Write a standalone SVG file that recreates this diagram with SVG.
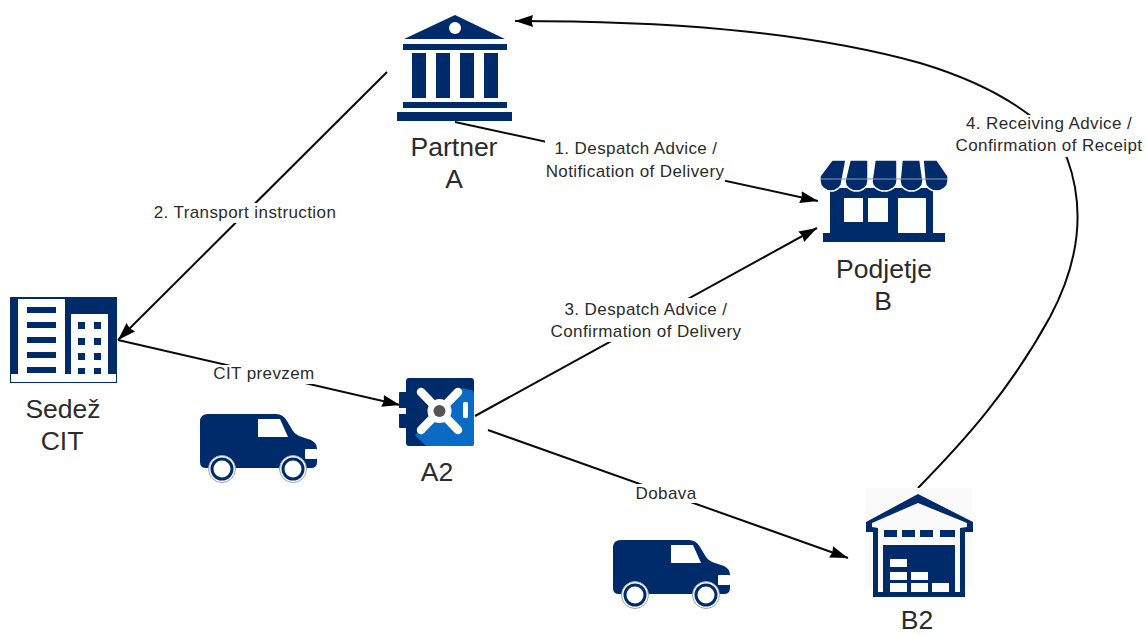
<svg xmlns="http://www.w3.org/2000/svg" width="1147" height="635" viewBox="0 0 1147 635">
<style>
.i{fill:#002b6b}.w{fill:#fff}
.c{fill:none;stroke:#0a0a0a;stroke-width:2;marker-end:url(#a)}
.t{font-family:"Liberation Sans",Arial,sans-serif;fill:#2b2b2b;text-anchor:middle}
.n{font-size:26.5px}.l{font-size:17px;letter-spacing:.4px}
.b{fill:#fff}
.s{fill:#002b6b;stroke:#fff;stroke-width:1.500}
</style>
<defs>
<marker id="a" markerUnits="userSpaceOnUse" markerWidth="20" markerHeight="14" refX="18" refY="6.500" orient="auto"><path d="M0 0.500L18 6.500L0 12.500L1.500 6.500Z" fill="#000"/></marker>
<g id="van"><path class="i" d="M208 414H276Q283 414 287 421L293 431Q296 435 302 437L311 440Q317 443 317 449V462Q317 468 311 468H206Q200 468 200 462V422Q200 414 208 414Z"/><path class="w" d="M258 419H280L288 437H258Z"/><rect class="w" x="305" y="449" width="12" height="10" rx="1"/><circle cx="222" cy="469" r="13.500" fill="#fff" stroke="#9aa3b2" stroke-width="1"/><circle cx="293" cy="469" r="13.500" fill="#fff" stroke="#9aa3b2" stroke-width="1"/><circle cx="222" cy="469" r="10" fill="#fff" stroke="#002b6b" stroke-width="3"/><circle cx="293" cy="469" r="10" fill="#fff" stroke="#002b6b" stroke-width="3"/></g>
</defs>
<rect width="1147" height="635" fill="#fff"/>
<g id="connectors">
<path class="c" d="M455 122L818 201"/>
<path class="c" d="M387 72L118 340"/>
<path class="c" d="M118 340L400 405"/>
<path class="c" d="M475 416L817 228"/>
<path class="c" d="M488 430L848 558"/>
<path class="c" d="M918 488C965 440 1010 390 1050 317C1075 270 1088 215 1067 158C1055 135 1040 122 1028 114C1000 93 960 75 920 63C800 30 660 21 515 21"/>
<rect class="b" x="545" y="139" width="180" height="45"/>
<rect class="b" x="152" y="203" width="187" height="20"/>
<rect class="b" x="212" y="365" width="105" height="19"/>
<rect class="b" x="549" y="298" width="195" height="44"/>
<rect class="b" x="635" y="484" width="62" height="19"/>
<rect class="b" x="954" y="115" width="190" height="42"/>
<text class="t l" x="636" y="154">1. Despatch Advice /</text>
<text class="t l" x="635" y="177">Notification of Delivery</text>
<text class="t l" x="245" y="218">2. Transport instruction</text>
<text class="t l" x="264" y="379">CIT prevzem</text>
<text class="t l" x="646" y="315">3. Despatch Advice /</text>
<text class="t l" x="646" y="337">Confirmation of Delivery</text>
<text class="t l" x="666" y="499">Dobava</text>
<text class="t l" x="1049" y="129">4. Receiving Advice /</text>
<text class="t l" x="1049" y="151">Confirmation of Receipt</text>
</g>
<g id="partner">
<path class="i" d="M455 15L505 39H404Z"/><circle class="w" cx="455" cy="28" r="6"/>
<rect class="i" x="403" y="44" width="104" height="6"/>
<rect class="i" x="412" y="53" width="14" height="45"/><rect class="i" x="436" y="53" width="14" height="45"/><rect class="i" x="460" y="53" width="14" height="45"/><rect class="i" x="484" y="53" width="14" height="45"/>
<rect class="i" x="403" y="102" width="104" height="6"/><rect class="i" x="397" y="112" width="115" height="9"/>
<text class="t n" x="454" y="156">Partner</text><text class="t n" x="454" y="188">A</text>
</g>
<g id="podjetje">
<path class="i" d="M830 188H933V233H945V242H823V233H830Z"/>
<rect class="w" x="844" y="198" width="19" height="24"/><rect class="w" x="868" y="198" width="20" height="24"/><rect class="w" x="898" y="198" width="28" height="35"/>
<path class="s" d="M832 160H846L842 181A11 10 0 0 1 820 181V176Z"/>
<path class="s" d="M850 160H868L868 181A11.500 10 0 0 1 845 181Z"/>
<path class="s" d="M875 160H897L897 181A12.500 10 0 0 1 872 181Z"/>
<path class="s" d="M902 160H920L923 181A11.500 10 0 0 1 900 181Z"/>
<path class="s" d="M923 160H937L948 176V181A11.500 10 0 0 1 925 181Z"/>
<path d="M820 179H948" stroke="#8b9bb8" stroke-width="1.200"/>
<text class="t n" x="884" y="278">Podjetje</text><text class="t n" x="883" y="310">B</text>
</g>
<g id="sedez-cit">
<rect class="i" x="10" y="297" width="107" height="86"/>
<rect class="w" x="18" y="299" width="47" height="76"/><rect class="w" x="71" y="314" width="37" height="61"/><rect class="w" x="11" y="374" width="105" height="8"/>
<g class="i"><rect x="27" y="307" width="29" height="6"/><rect x="27" y="322" width="29" height="6"/><rect x="27" y="337" width="29" height="6"/><rect x="27" y="352" width="29" height="6"/><rect x="27" y="367" width="29" height="6"/>
<rect x="78" y="322" width="7" height="7"/><rect x="94" y="322" width="7" height="7"/><rect x="78" y="338" width="7" height="7"/><rect x="94" y="338" width="7" height="7"/><rect x="78" y="353" width="7" height="7"/><rect x="94" y="353" width="7" height="7"/><rect x="78" y="368" width="7" height="6"/><rect x="94" y="368" width="7" height="6"/></g>
<text class="t n" x="63" y="418">Sedež</text><text class="t n" x="62" y="450">CIT</text>
</g>
<g id="van-1"><use href="#van"/></g>
<g id="a2">
<rect class="i" x="399" y="392" width="10" height="36" rx="1"/><rect class="w" x="399" y="408" width="8" height="6"/>
<rect class="i" x="406" y="378" width="68" height="68" rx="3"/>
<path d="M470 390Q474 390 474 394V443Q474 446 471 446H426L415 435L462 388Z" fill="#0b6ac4"/>
<path d="M421 392L439.500 411L458 392M421 430L439.500 411L458 430" stroke="#fff" stroke-width="8.500" stroke-linecap="round" fill="none"/>
<circle class="w" cx="439.500" cy="411" r="12"/><circle cx="439.500" cy="411" r="6" fill="#555"/>
<rect class="w" x="463" y="402" width="5" height="16" rx="1.500"/>
<text class="t n" x="437" y="481">A2</text>
</g>
<g id="van-2"><use href="#van" x="413" y="126"/></g>
<g id="b2">
<rect x="865" y="488" width="107" height="100" fill="#fafafa"/>
<path class="i" fill-rule="evenodd" d="M918 494L973 522V532H965V597H873V532H866V522ZM918 503L872 523V527L878 528V592H960V528L967 527V523Z"/>
<g class="i"><rect x="884" y="530" width="13" height="7"/><rect x="902" y="530" width="13" height="7"/><rect x="920" y="530" width="13" height="7"/><rect x="940" y="530" width="15" height="7"/><rect x="883" y="545" width="72" height="48"/></g>
<g class="w"><rect x="890" y="559" width="17" height="8"/><rect x="890" y="572" width="17" height="8"/><rect x="911" y="572" width="17" height="8"/><rect x="890" y="583" width="17" height="9"/><rect x="911" y="583" width="17" height="9"/><rect x="932" y="583" width="17" height="9"/></g>
<text class="t n" x="917" y="629">B2</text>
</g>
</svg>
